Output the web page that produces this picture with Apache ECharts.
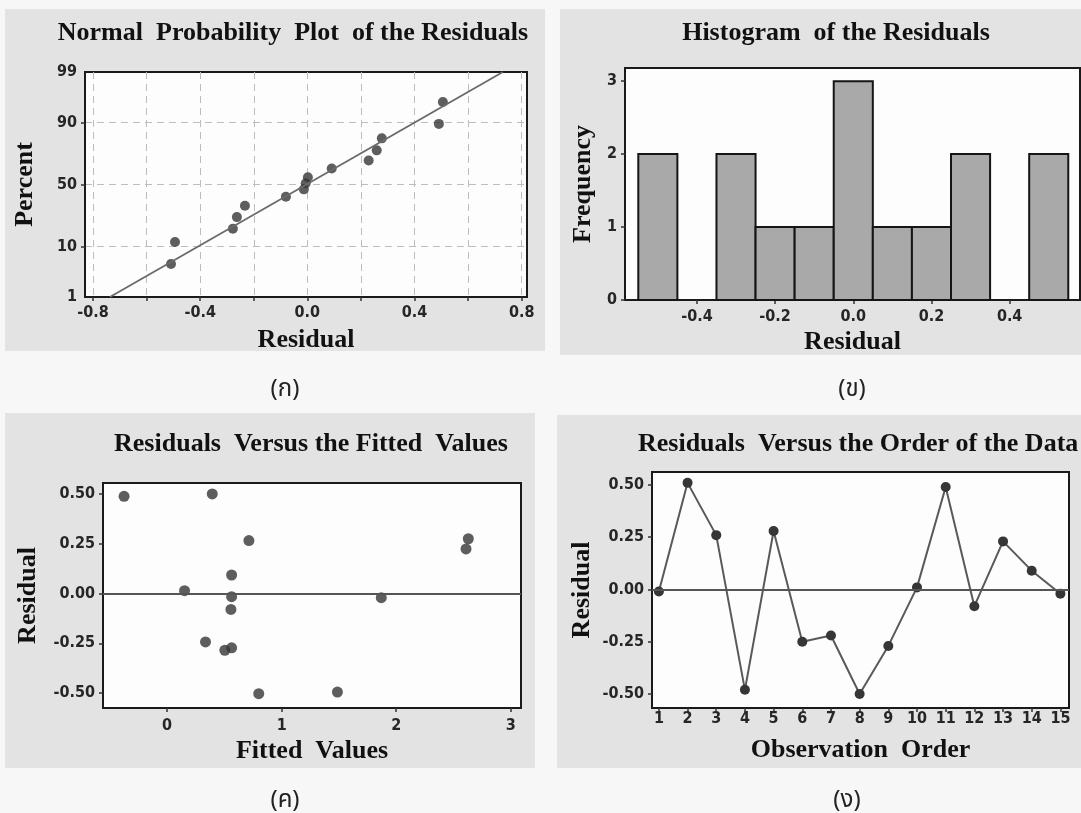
<!DOCTYPE html>
<html>
<head>
<meta charset="utf-8">
<script src="https://cdn.jsdelivr.net/npm/echarts@6/dist/echarts.min.js"></script>
<style>
  html, body { margin: 0; padding: 0; background: #f7f7f7; }
  #chart { width: 1081px; height: 813px; }
</style>
</head>
<body>
<div id="chart"></div>
<script>
// ---------- data ----------
// (ก) Normal probability plot
const probResidual = [-0.509, -0.494, -0.278, -0.263, -0.233, -0.080, -0.013, -0.006, 0.002, 0.091, 0.229, 0.259, 0.278, 0.491, 0.506];
const probPercent  = [5.0, 11.7, 18, 25, 33, 40, 46, 51, 56, 63, 69, 76, 83, 89.5, 95.6];
const fitLineResidual = [-0.737, 0.730];
const fitLinePercent  = [1, 99];
const percentTicks = [1, 10, 50, 90, 99];
const percentGrid  = [10, 50, 90];
const probXTicks   = [-0.8, -0.6, -0.4, -0.2, 0.0, 0.2, 0.4, 0.6, 0.8];
const probXLabels  = [-0.8, -0.4, 0.0, 0.4, 0.8];

// (ข) Histogram
const histBinCenters = [-0.5, -0.4, -0.3, -0.2, -0.1, 0.0, 0.1, 0.2, 0.3, 0.4, 0.5];
const histCounts     = [2, 0, 2, 1, 1, 3, 1, 1, 2, 0, 2];
const histBinWidth   = 0.1;
const histXLabels    = [-0.4, -0.2, 0.0, 0.2, 0.4];
const histYLabels    = [0, 1, 2, 3];

// (ค) Residuals vs fitted values
const fittedValues    = [-0.376, 0.394, 0.714, 0.152, 0.563, 0.563, 0.557, 0.335, 0.504, 0.563, 0.80, 1.487, 1.87, 2.63, 2.61];
const fittedResiduals = [0.488, 0.50, 0.266, 0.014, 0.093, -0.016, -0.08, -0.243, -0.285, -0.273, -0.503, -0.495, -0.021, 0.275, 0.224];
const fittedXLabels   = [0, 1, 2, 3];
const residualLabels  = [-0.50, -0.25, 0.00, 0.25, 0.50];

// (ง) Residuals vs observation order
const observationOrder = [1, 2, 3, 4, 5, 6, 7, 8, 9, 10, 11, 12, 13, 14, 15];
const orderResiduals   = [-0.01, 0.51, 0.26, -0.48, 0.28, -0.25, -0.22, -0.50, -0.27, 0.01, 0.49, -0.08, 0.23, 0.09, -0.02];

// ---------- helpers ----------
// inverse standard normal CDF (probability-scale transform)
function probit(p) {
  const a = [-3.969683028665376e+01, 2.209460984245205e+02, -2.759285104469687e+02, 1.383577518672690e+02, -3.066479806614716e+01, 2.506628277459239e+00];
  const b = [-5.447609879822406e+01, 1.615858368580409e+02, -1.556989798598866e+02, 6.680131188771972e+01, -1.328068155288572e+01];
  const c = [-7.784894002430293e-03, -3.223964580411365e-01, -2.400758277529432e+00, -2.549732539343734e+00, 4.374664141464968e+00, 2.938163982698783e+00];
  const d = [7.784695709041462e-03, 3.224671290700398e-01, 2.445134137142996e+00, 3.754408661907416e+00];
  const pl = 0.02425, ph = 1 - pl;
  let q, r;
  if (p < pl) {
    q = Math.sqrt(-2 * Math.log(p));
    return (((((c[0]*q+c[1])*q+c[2])*q+c[3])*q+c[4])*q+c[5]) / ((((d[0]*q+d[1])*q+d[2])*q+d[3])*q+1);
  }
  if (p <= ph) {
    q = p - 0.5; r = q * q;
    return (((((a[0]*r+a[1])*r+a[2])*r+a[3])*r+a[4])*r+a[5])*q / (((((b[0]*r+b[1])*r+b[2])*r+b[3])*r+b[4])*r+1);
  }
  q = Math.sqrt(-2 * Math.log(1 - p));
  return -(((((c[0]*q+c[1])*q+c[2])*q+c[3])*q+c[4])*q+c[5]) / ((((d[0]*q+d[1])*q+d[2])*q+d[3])*q+1);
}
const zOf = pct => probit(pct / 100);
const zTicks = percentTicks.map(zOf);
function pctLabel(v) {
  let best = 0;
  zTicks.forEach((z, i) => { if (Math.abs(z - v) < Math.abs(zTicks[best] - v)) best = i; });
  return String(percentTicks[best]);
}

const SERIF = "'Liberation Serif', 'Times New Roman', 'DejaVu Serif', serif";
const SANS = "'DejaVu Sans Condensed', 'DejaVu Sans', sans-serif";
const THAI = "'Noto Sans', 'Noto Sans Thai', 'DejaVu Sans', sans-serif";
const DOT = '#363636';

const titleStyle = { fontFamily: SERIF, fontWeight: 'bold', fontSize: 26, color: '#111' };
const nameStyle = { fontFamily: SERIF, fontWeight: 'bold', fontSize: 26, color: '#111' };
const labelStyle = { fontFamily: SANS, fontSize: 16, fontWeight: 'bold', color: '#262626' };
const subStyle = { fontFamily: THAI, fontSize: 24, color: '#222', fontWeight: 'normal' };

function baseAxis(extra) {
  return Object.assign({
    type: 'value',
    axisLine: { show: true, onZero: false, lineStyle: { color: '#1a1a1a', width: 2 } },
    splitLine: { show: false },
    nameLocation: 'middle',
    nameTextStyle: nameStyle
  }, extra);
}
function ticks(values) {
  return { show: true, inside: false, length: 4, customValues: values, lineStyle: { color: '#333', width: 1.5 } };
}
const fmt1 = v => Number(v).toFixed(1);
const fmt2 = v => Number(v).toFixed(2);

const gridStyle = { show: true, backgroundColor: '#fdfdfd', borderColor: '#1a1a1a', borderWidth: 2, containLabel: false };

const option = {
  animation: false,
  backgroundColor: '#f7f7f7',
  graphic: [
    { type: 'rect', z: -100, shape: { x: 5, y: 9, width: 540, height: 342 }, style: { fill: '#e3e3e3' }, silent: true },
    { type: 'rect', z: -100, shape: { x: 560, y: 9, width: 521, height: 346 }, style: { fill: '#e3e3e3' }, silent: true },
    { type: 'rect', z: -100, shape: { x: 5, y: 413, width: 530, height: 355 }, style: { fill: '#e3e3e3' }, silent: true },
    { type: 'rect', z: -100, shape: { x: 557, y: 415, width: 524, height: 353 }, style: { fill: '#e3e3e3' }, silent: true }
  ],
  title: [
    { text: 'Normal  Probability  Plot  of the Residuals', left: 288, top: 15, textAlign: 'center', textStyle: titleStyle },
    { text: 'Histogram  of the Residuals', left: 831, top: 15, textAlign: 'center', textStyle: titleStyle },
    { text: 'Residuals  Versus the Fitted  Values', left: 306, top: 426, textAlign: 'center', textStyle: titleStyle },
    { text: 'Residuals  Versus the Order of the Data', left: 633, top: 426, textAlign: 'left', textStyle: titleStyle },
    { text: '(ก)', left: 280, top: 372, textAlign: 'center', textStyle: subStyle },
    { text: '(ข)', left: 847, top: 372, textAlign: 'center', textStyle: subStyle },
    { text: '(ค)', left: 280, top: 783, textAlign: 'center', textStyle: subStyle },
    { text: '(ง)', left: 842, top: 783, textAlign: 'center', textStyle: subStyle }
  ],
  grid: [
    Object.assign({ left: 85, top: 72, width: 442, height: 225 }, gridStyle),
    Object.assign({ left: 625, top: 68, width: 455, height: 232 }, gridStyle),
    Object.assign({ left: 103, top: 483, width: 418, height: 225 }, gridStyle),
    Object.assign({ left: 652, top: 472, width: 417, height: 236 }, gridStyle)
  ],
  xAxis: [
    baseAxis({
      gridIndex: 0, min: -0.83, max: 0.82, name: 'Residual', nameGap: 30,
      axisTick: ticks(probXTicks),
      axisLabel: { customValues: probXLabels, formatter: fmt1, margin: 8, ...labelStyle },
      splitLine: { show: true, lineStyle: { color: '#bdbdbd', type: [7, 5], width: 1 } }
    }),
    baseAxis({
      gridIndex: 1, min: -0.584, max: 0.58, name: 'Residual', nameGap: 29,
      axisTick: ticks(histXLabels),
      axisLabel: { customValues: histXLabels, formatter: fmt1, margin: 9, ...labelStyle }
    }),
    baseAxis({
      gridIndex: 2, min: -0.56, max: 3.09, name: 'Fitted  Values', nameGap: 30,
      axisTick: ticks(fittedXLabels),
      axisLabel: { customValues: fittedXLabels, formatter: v => String(Math.round(v)), margin: 10, ...labelStyle }
    }),
    baseAxis({
      gridIndex: 3, min: 0.76, max: 15.3, name: 'Observation  Order', nameGap: 29,
      axisTick: ticks(observationOrder),
      axisLabel: { customValues: observationOrder, formatter: v => String(Math.round(v)), margin: 3, ...labelStyle }
    })
  ],
  yAxis: [
    baseAxis({
      gridIndex: 0, min: zTicks[0], max: zTicks[zTicks.length - 1], name: 'Percent', nameGap: 47,
      axisTick: ticks(percentGrid.map(zOf)),
      axisLabel: { customValues: zTicks, formatter: pctLabel, margin: 8, ...labelStyle },
      splitLine: { show: true, lineStyle: { color: '#bdbdbd', type: [7, 5], width: 1 } }
    }),
    baseAxis({
      gridIndex: 1, min: 0, max: 3.18, name: 'Frequency', nameGap: 29,
      axisTick: ticks(histYLabels),
      axisLabel: { customValues: histYLabels, formatter: v => String(Math.round(v)), margin: 8, ...labelStyle }
    }),
    baseAxis({
      gridIndex: 2, min: -0.575, max: 0.555, name: 'Residual', nameGap: 62,
      axisTick: ticks(residualLabels),
      axisLabel: { customValues: residualLabels, formatter: fmt2, margin: 8, ...labelStyle }
    }),
    baseAxis({
      gridIndex: 3, min: -0.567, max: 0.562, name: 'Residual', nameGap: 57,
      axisTick: ticks(residualLabels),
      axisLabel: { customValues: residualLabels, formatter: fmt2, margin: 8, ...labelStyle }
    })
  ],
  series: [
    {
      type: 'line', xAxisIndex: 0, yAxisIndex: 0, symbol: 'none', silent: true,
      lineStyle: { color: '#6a6a6a', width: 1.8 },
      data: fitLineResidual.map((x, i) => [x, zOf(fitLinePercent[i])])
    },
    {
      type: 'scatter', xAxisIndex: 0, yAxisIndex: 0, symbolSize: 10,
      itemStyle: { color: DOT },
      data: probResidual.map((x, i) => [x, zOf(probPercent[i])])
    },
    {
      type: 'custom', xAxisIndex: 1, yAxisIndex: 1,
      data: histBinCenters.map((c, i) => [c, histCounts[i]]),
      renderItem: function (params, api) {
        const c = api.value(0), n = api.value(1);
        if (!n) return null;
        const p0 = api.coord([c - histBinWidth / 2, n]);
        const p1 = api.coord([c + histBinWidth / 2, 0]);
        return {
          type: 'rect',
          shape: { x: p0[0], y: p0[1], width: p1[0] - p0[0], height: p1[1] - p0[1] },
          style: { fill: '#a9a9a9', stroke: '#151515', lineWidth: 2 }
        };
      }
    },
    {
      type: 'scatter', xAxisIndex: 2, yAxisIndex: 2, symbolSize: 11,
      itemStyle: { color: DOT },
      data: fittedValues.map((f, i) => [f, fittedResiduals[i]]),
      markLine: {
        silent: true, symbol: 'none', label: { show: false },
        lineStyle: { color: '#555', width: 2, type: 'solid' },
        data: [{ yAxis: 0 }]
      },
      z: 3
    },
    {
      type: 'line', xAxisIndex: 3, yAxisIndex: 3, symbol: 'circle', symbolSize: 10,
      lineStyle: { color: '#595959', width: 2 },
      itemStyle: { color: DOT },
      data: observationOrder.map((o, i) => [o, orderResiduals[i]]),
      markLine: {
        silent: true, symbol: 'none', label: { show: false },
        lineStyle: { color: '#555', width: 2, type: 'solid' },
        data: [{ yAxis: 0 }]
      }
    }
  ]
};

const chart = echarts.init(document.getElementById('chart'), null, { renderer: 'canvas' });
chart.setOption(option);
</script>
</body>
</html>
